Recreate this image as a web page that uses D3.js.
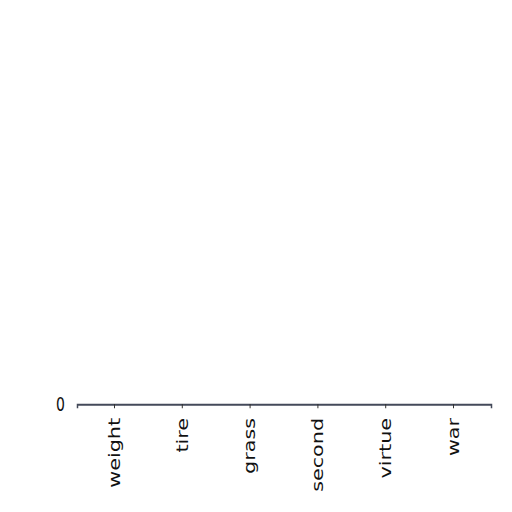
<!DOCTYPE html>
<html>
  <head>
    <style>
      body { margin: 0; background: #fff; }
      svg { display: block; }
      .tick text { font-family: "DejaVu Sans", sans-serif; fill: #111; }
    </style>
    <script src="https://d3js.org/d3.v7.min.js"></script>
  </head>
  <body>
    <script>
      // chart data
      const categories = ["weight", "tire", "grass", "second", "virtue", "war"];
      const values = [0, 0, 0, 0, 0, 0];
      const yTicks = [0];

      const w = 512;
      const vh = 370; // picture is stretched vertically, viewBox keeps that
      const baseY = 292;
      const topY = 20;

      const svg = d3.select("body")
        .append("svg")
        .attr("width", 512)
        .attr("height", 512)
        .attr("viewBox", "0 0 " + w + " " + vh)
        .attr("preserveAspectRatio", "none");

      const xScale = d3.scaleBand()
        .domain(categories)
        .range([77, 491])
        .paddingInner(0.2)
        .paddingOuter(0.153);

      const yScale = d3.scaleLinear()
        .domain([0, 1])
        .range([baseY, topY]);

      svg.selectAll("rect")
        .data(values)
        .enter()
        .append("rect")
        .attr("x", (d, i) => xScale(categories[i]))
        .attr("y", d => yScale(d))
        .attr("width", xScale.bandwidth())
        .attr("height", d => baseY - yScale(d))
        .attr("fill", "#4c5a7a");

      const xAxis = d3.axisBottom(xScale).tickSize(3).tickPadding(5);
      const gx = svg.append("g")
        .attr("transform", "translate(0," + baseY + ")")
        .call(xAxis);
      gx.select(".domain").attr("stroke", "#444a5a").attr("stroke-width", 1.5);
      gx.selectAll(".tick line").attr("stroke", "#333");
      gx.selectAll(".tick text")
        .attr("font-size", 15)
        .attr("transform", "rotate(-90)")
        .attr("text-anchor", "end")
        .attr("x", -10)
        .attr("y", 0)
        .attr("dy", "0.35em");

      const yAxis = d3.axisLeft(yScale).tickValues(yTicks).tickFormat(d3.format("d"))
        .tickSize(0).tickPadding(10);
      const gy = svg.append("g")
        .attr("transform", "translate(75,0)")
        .call(yAxis);
      gy.select(".domain").remove();
      gy.selectAll(".tick text").attr("font-size", 14).attr("fill", "#555");
    </script>
  </body>
</html>
